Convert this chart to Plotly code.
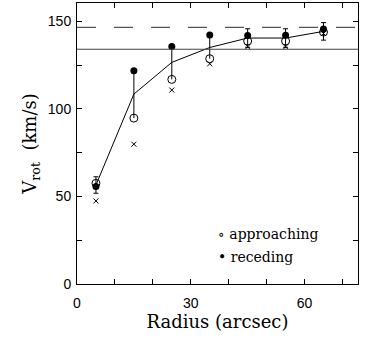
import plotly.graph_objects as go

radius = [5, 15, 25, 35, 45, 55, 65]
v_receding = [55.6, 121.7, 135.6, 142.1, 141.9, 142.0, 145.5]
v_approaching = [57.5, 94.7, 116.8, 128.6, 138.7, 138.7, 143.8]
v_cross = [47.4, 79.8, 110.7, 125.7, 135.4, 135.4, 143.0]
v_curve = [56.5, 108.4, 126.5, 135.0, 140.4, 140.4, 144.2]
curve_err = [4.7, 0, 0, 0, 5.3, 5.3, 5.0]
v_solid_ref = 134.0
v_dashed_ref = 146.5

serif = "DejaVu Serif"
sans = "Liberation Sans"

fig = go.Figure()

# vertical segments connecting approaching and receding (where no error bar)
seg_x, seg_y = [], []
for r, a, rc, e in zip(radius, v_approaching, v_receding, curve_err):
    if e == 0:
        seg_x += [r, r, None]
        seg_y += [a, rc, None]
fig.add_trace(go.Scatter(x=seg_x, y=seg_y, mode="lines",
                         line=dict(color="black", width=1), showlegend=False))

# rotation curve
fig.add_trace(go.Scatter(x=radius, y=v_curve, mode="lines",
                         line=dict(color="black", width=1), showlegend=False))

# error bars only where given
eb = [(r, v, e) for r, v, e in zip(radius, v_curve, curve_err) if e > 0]
fig.add_trace(go.Scatter(
    x=[t[0] for t in eb], y=[t[1] for t in eb], mode="markers",
    marker=dict(size=1, color="rgba(0,0,0,0)"),
    error_y=dict(type="data", array=[t[2] for t in eb], visible=True,
                 color="black", thickness=1, width=2.5),
    showlegend=False))

fig.add_trace(go.Scatter(x=radius, y=v_cross, mode="markers",
                         marker=dict(symbol="x-thin", size=5,
                                     line=dict(color="black", width=1)),
                         showlegend=False))
fig.add_trace(go.Scatter(x=radius, y=v_approaching, mode="markers",
                         marker=dict(symbol="circle-open", size=8,
                                     color="black", line=dict(width=1)),
                         showlegend=False))
fig.add_trace(go.Scatter(x=radius, y=v_receding, mode="markers",
                         marker=dict(symbol="circle", size=7, color="black"),
                         showlegend=False))

fig.add_hline(y=v_solid_ref, line=dict(color="#444", width=1.2))
fig.add_hline(y=v_dashed_ref, line=dict(color="#555", width=1.2, dash="19px,18px"))

fig.add_annotation(x=0.495, y=0.178, xref="paper", yref="paper",
                   text="∘ approaching", showarrow=False, xanchor="left", yanchor="middle",
                   font=dict(family=serif, size=14, color="black"))
fig.add_annotation(x=0.495, y=0.096, xref="paper", yref="paper",
                   text="• receding", showarrow=False, xanchor="left", yanchor="middle",
                   font=dict(family=serif, size=14, color="black"))

axis_common = dict(showline=True, linecolor="black", linewidth=1, mirror="ticks",
                   ticks="inside", ticklen=5, tickcolor="black", showgrid=False,
                   zeroline=False, automargin=False,
                   tickfont=dict(family=sans, size=14, color="black"))

fig.update_xaxes(range=[0, 74.1], dtick=30, tick0=0, ticklabelstandoff=6,
                 minor=dict(dtick=10, ticks="inside", ticklen=5, tickcolor="black"),
                 title=dict(text="Radius (arcsec)", font=dict(family=serif, size=18, color="black"),
                            standoff=4),
                 **axis_common)
fig.update_yaxes(range=[0, 160.4], dtick=50, tick0=0, ticklabelstandoff=2,
                 minor=dict(dtick=25, ticks="inside", ticklen=5, tickcolor="black"),
                 title=dict(text="V<sub>rot</sub>  (km/s)", font=dict(family=serif, size=18, color="black"),
                            standoff=6),
                 **axis_common)

fig.update_layout(width=375, height=338, margin=dict(l=77, r=17, t=3, b=54),
                  plot_bgcolor="white", paper_bgcolor="white", showlegend=False)

fig.write_html("out.html", config={"displayModeBar": False},
               post_script="document.body.style.margin='0';")
